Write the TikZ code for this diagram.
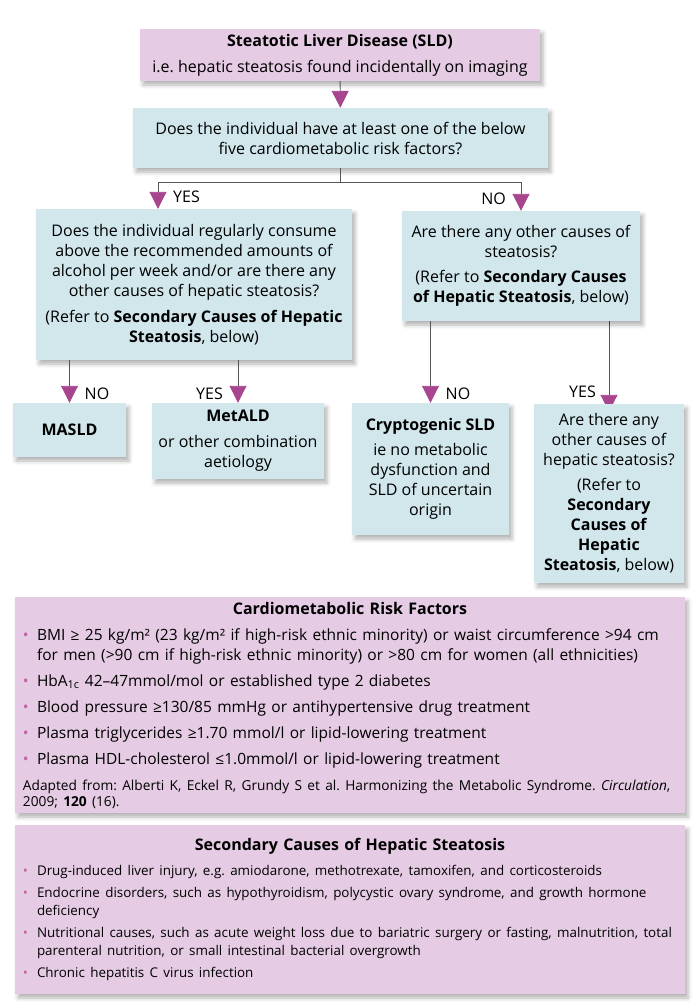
\documentclass[tikz,border=0pt]{standalone}
\usepackage{fontspec}
\setmainfont{Open Sans}
\usetikzlibrary{arrows.meta,shadows.blur,backgrounds,calc}
\definecolor{boxpink}{HTML}{E5CBE3}
\definecolor{boxblue}{HTML}{D1E7EC}
\definecolor{tipmag}{HTML}{A8458F}
\definecolor{linegrey}{HTML}{555555}
\definecolor{dotpink}{HTML}{C264A9}
% bullet with hanging indent
\newcommand{\riskpt}{\par\hangindent=14pt\hangafter=1\noindent\makebox[14pt][l]{\textcolor{dotpink}{\textbullet}}}
\begin{document}
\frenchspacing
\begin{tikzpicture}
[ x=1pt, y=-1pt
, font=\fontsize{16}{20}\selectfont
, box/.style={rectangle, inner sep=0pt, align=center, blur shadow={shadow xshift=3pt, shadow yshift=-4pt, shadow blur radius=4pt, shadow opacity=30}}
, qbox/.style={box, fill=boxblue}
, pbox/.style={box, fill=boxpink}
, listbox/.style={pbox, align=left, inner xsep=8pt, text width=654pt, minimum width=670pt}
, flow/.style={draw=linegrey, line width=0.9pt, -{Triangle[width=17pt, length=17pt, color=tipmag]}}
, lbl/.style={inner sep=0pt}
]
\useasboundingbox (0,0) rectangle (697,1004);
% Top of the chart:
\node (sld) [pbox, minimum width=400pt, minimum height=52pt] at (340,55)
  {\textbf{Steatotic Liver Disease (SLD)}\\[6pt]i.e. hepatic steatosis found incidentally on imaging};
\node (risk) [qbox, minimum width=415pt, minimum height=60pt] at (340.5,138)
  {Does the individual have at least one of the below\\five cardiometabolic risk factors?};
% Questions:
\node (alc) [qbox, minimum width=316pt, minimum height=151pt] at (194,284.5)
  {Does the individual regularly consume\\above the recommended amounts of\\alcohol per week and/or are there any\\other causes of hepatic steatosis?\\[6pt]
   (Refer to \textbf{Secondary Causes of Hepatic}\\\textbf{Steatosis}, below)};
\node (other) [qbox, minimum width=238pt, minimum height=110pt] at (521,266)
  {Are there any other causes of\\steatosis?\\[5pt]
   (Refer to \textbf{Secondary Causes}\\\textbf{of Hepatic Steatosis}, below)};
% Outcomes:
\node (masld) [qbox, minimum width=113pt, minimum height=54pt] at (69.5,430) {\textbf{MASLD}};
\node (metald) [qbox, minimum width=172pt, minimum height=76pt] at (238,441)
  {\textbf{MetALD}\\[6pt]or other combination\\aetiology};
\node (crypto) [qbox, minimum width=157pt, minimum height=132pt] at (430.5,469)
  {\textbf{Cryptogenic SLD}\\[5pt]ie no metabolic\\dysfunction and\\SLD of uncertain\\origin};
\node (more) [qbox, minimum width=150pt, minimum height=179pt] at (609,493.5)
  {Are there any\\other causes of\\hepatic steatosis?\\[5pt](Refer to\\\textbf{Secondary}\\\textbf{Causes of}\\\textbf{Hepatic}\\\textbf{Steatosis}, below)};
% Lists:
\node (cmrf) [listbox, minimum height=216pt] at (350,705)
  {\setlength{\parskip}{6pt}%
   {\centering\textbf{Cardiometabolic Risk Factors}\par}
   \fontsize{15.5}{20}\selectfont
   \riskpt BMI ≥ 25 kg/m² (23 kg/m² if high-risk ethnic minority) or waist circumference >94 cm\newline for men (>90 cm if high-risk ethnic minority) or >80 cm for women (all ethnicities)
   \riskpt HbA\textsubscript{1c} 42–47mmol/mol or established type 2 diabetes
   \riskpt Blood pressure ≥130/85 mmHg or antihypertensive drug treatment
   \riskpt Plasma triglycerides ≥1.70 mmol/l or lipid-lowering treatment
   \riskpt Plasma HDL-cholesterol ≤1.0mmol/l or lipid-lowering treatment
   \par\vspace{4pt}
   {\fontsize{13.7}{16}\selectfont\noindent Adapted from: Alberti K, Eckel R, Grundy S et al. Harmonizing the Metabolic Syndrome. \textit{Circulation},\newline 2009; \textbf{120} (16).\par}};
\node (sec) [listbox, minimum height=169pt] at (350,909.5)
  {\setlength{\parskip}{4pt}%
   {\centering\textbf{Secondary Causes of Hepatic Steatosis}\par}
   \vspace{3pt}\fontsize{13.4}{18}\selectfont
   \riskpt Drug-induced liver injury, e.g. amiodarone, methotrexate, tamoxifen, and corticosteroids
   \riskpt Endocrine disorders, such as hypothyroidism, polycystic ovary syndrome, and growth hormone\newline deficiency
   \riskpt Nutritional causes, such as acute weight loss due to bariatric surgery or fasting, malnutrition, total\newline parenteral nutrition, or small intestinal bacterial overgrowth
   \riskpt Chronic hepatitis C virus infection\par};
% Connectors:
\coordinate (fork) at ($(risk.south)+(0,14)$);
\draw [flow] (sld) -- (risk);
\draw [flow] (risk.south) -- (fork) -| ([xshift=-36pt]alc.north);
\draw [flow] (fork) -| (other.north);
\draw [flow] (alc.south -| masld.north) -- (masld.north);
\draw [flow] (alc.south -| metald.north) -- (metald.north);
\draw [flow] (other.south -| crypto.north) -- (crypto.north);
\begin{scope}[on background layer]
\draw [flow, shorten >=-8pt] (other.south -| more.north) -- (more.north);
\end{scope}
% Labels:
\node (yesA) [lbl, anchor=west] at ([xshift=-21pt, yshift=12pt]alc.north) {YES};
\node (noA) [lbl, anchor=east] at ([xshift=-15pt, yshift=12pt]other.north) {NO};
\node (noB) [lbl, anchor=west] at ([xshift=15pt, yshift=9pt]masld.north) {NO};
\node (yesB) [lbl, anchor=east] at ([xshift=-15pt, yshift=9pt]metald.north) {YES};
\node (noC) [lbl, anchor=west] at ([xshift=15pt, yshift=9pt]crypto.north) {NO};
\node (yesC) [lbl, anchor=east] at ([xshift=-13pt, yshift=12pt]more.north) {YES};
\end{tikzpicture}
\end{document}
